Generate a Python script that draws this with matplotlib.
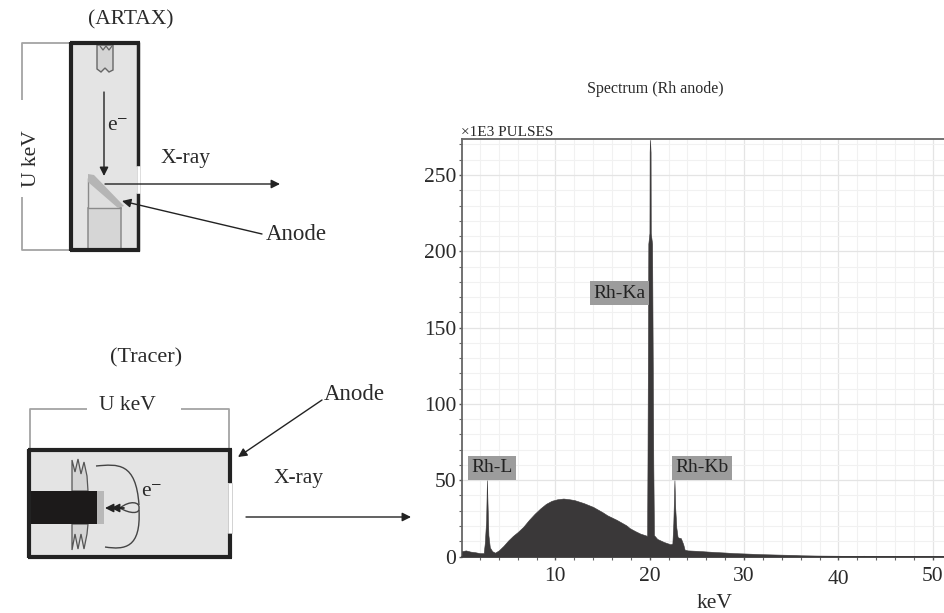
#!/usr/bin/env python3
"""X-ray tube sketches (ARTAX, Tracer) next to a Rh anode spectrum."""

import matplotlib
matplotlib.use('Agg')
import matplotlib.pyplot as plt
from matplotlib.patches import Polygon, Rectangle
from matplotlib.path import Path
from matplotlib.patches import PathPatch
from matplotlib.transforms import ScaledTranslation

plt.rcParams['font.family'] = ['Liberation Serif', 'DejaVu Serif']

# ── Spectrum data ─────────────────────────────────────────────────────────────
kev = [0.1, 0.5, 1.0, 1.5, 2.0, 2.4, 2.52, 2.66, 2.74, 2.8, 2.9, 3.05, 3.3, 3.6,
       4.0, 4.5, 5.0, 5.5, 6.0, 6.6, 7.2, 7.8, 8.4, 9.0, 9.6, 10.2, 10.85, 11.5,
       12.0, 13.0, 14.0, 15.0, 15.5, 16.5, 17.5, 17.9, 18.5, 19.0, 19.5, 19.72,
       19.76, 19.85, 19.97, 19.99, 20.03, 20.09, 20.11, 20.25, 20.38, 20.45, 20.8, 21.5,
       22.2, 22.4, 22.5, 22.62, 22.7, 22.82, 22.95, 23.0, 23.3, 23.55, 23.7, 24.0,
       25.0, 26.0, 27.0, 28.0, 29.0, 30.0, 32.0, 34.0, 35.5, 36.0, 38.0, 40.0, 41.0,
       42.0, 42.7, 43.0, 45.0, 48.0, 51.4]
counts = [3.5, 4.0, 3.2, 2.8, 2.2, 2.2, 9, 24, 50, 36, 14, 6, 3.5, 2.5,
          4, 7, 10.5, 13.5, 16, 19.5, 24, 28, 31.5, 34.5, 36.5, 37.5, 38, 37.5,
          37, 35, 32.5, 29, 27, 24, 20.5, 18.5, 16.5, 15, 14, 13.5,
          60, 205, 212, 265, 273, 265, 212, 205, 60, 14, 11.5, 9.5,
          8, 8.5, 22, 50, 32, 19, 13, 12.5, 12, 8, 4.5, 4,
          3.7, 3.3, 2.9, 2.6, 2.2, 2.0, 1.5, 1.2, 1.0, 0.8, 0.6, 0.5, 0.4,
          0.3, 0.5, 0.3, 0.3, 0.2, 0.2]

y_ticks = [0, 50, 100, 150, 200, 250]
x_ticks = [10, 20, 30, 40, 50]
x_minor = list(range(2, 52, 2))
y_minor = list(range(0, 280, 10))

peak_labels = ['Rh-L', 'Rh-Ka', 'Rh-Kb']
peak_x = [1.1, 14.0, 22.75]
peak_y = [58.0, 172.5, 58.0]

# ── Theme ─────────────────────────────────────────────────────────────────────
DARK = '#3a3839'
TEXT = '#2a2a2a'
WIRE = '#a4a4a4'
TUBE = '#e4e4e4'
LABEL_BG = '#9c9c9c'

W, H = 945, 613
fig = plt.figure(figsize=(W / 100, H / 100), dpi=100, facecolor='white')

# ── Spectrum panel ────────────────────────────────────────────────────────────
ax = fig.add_axes([462 / W, 1 - 556.5 / H, (W - 462) / W, (556.5 - 139) / H])
ax.set_xlim(0.1, 51.3)
ax.set_ylim(0, 273.6)

ax.set_xticks(x_ticks)
ax.set_xticks(x_minor, minor=True)
ax.set_yticks(y_ticks)
ax.set_yticks(y_minor, minor=True)
ax.grid(True, which='major', color='#e4e4e4', linewidth=0.9, zorder=0)
ax.grid(True, which='minor', color='#f1f1f1', linewidth=0.8, zorder=0)
ax.set_axisbelow(True)
ax.tick_params(which='major', length=2.5, width=1.0, color='#555555', labelsize=15.5,
               labelcolor=TEXT, pad=1.5)
ax.tick_params(which='minor', length=2, width=0.8, color='#666666')
ax.tick_params(axis='x', which='major', pad=5)

ax.spines['right'].set_visible(False)
for name in ('left', 'top'):
    ax.spines[name].set_color('#666666')
    ax.spines[name].set_linewidth(1.3)
ax.spines['bottom'].set_color('#444444')
ax.spines['bottom'].set_linewidth(1.3)

# the 40 label sits a little low in the original
for lab, val in zip(ax.get_xticklabels(), x_ticks):
    if val == 40:
        lab.set_transform(lab.get_transform() +
                          ScaledTranslation(0, -2 / 72, fig.dpi_scale_trans))

ax.fill_between(kev, 0, counts, color=DARK, linewidth=0.4, zorder=3)

for name, px, py in zip(peak_labels, peak_x, peak_y):
    ax.text(px, py, name, fontsize=14, color='#222222', va='center', ha='left', zorder=4,
            bbox=dict(facecolor=LABEL_BG, edgecolor='none', pad=2.5))

# ── Overlay in image pixels for the sketches and loose text ───────────────────
ov = fig.add_axes([0, 0, 1, 1], facecolor='none')
ov.set_xlim(0, W)
ov.set_ylim(H, 0)
ov.axis('off')


def label(x, y, s, size=15.5, **kw):
    ov.text(x, y, s, fontsize=size, color=TEXT, ha='center', va='center', **kw)


def line(xs, ys, color='#888888', lw=1.2):
    ov.plot(xs, ys, color=color, linewidth=lw, solid_capstyle='butt', zorder=3)


def arrow(x0, y0, x1, y1, lw=1.0):
    ov.annotate('', xy=(x1, y1), xytext=(x0, y0), zorder=5,
                arrowprops=dict(arrowstyle='-|>', color='#222222', lw=lw,
                                mutation_scale=13, shrinkA=0, shrinkB=0))


label(655, 89, 'Spectrum (Rh anode)', size=11.5)
ov.text(461, 133, '\u00d71E3 PULSES', fontsize=11, color=TEXT, ha='left', va='center')
label(715, 603, 'keV')

# ── ARTAX tube ────────────────────────────────────────────────────────────────
label(131, 20, '(ARTAX)')
line([71, 22, 22], [43, 43, 100], WIRE, 1.3)
line([22, 22, 71], [197, 250, 250], WIRE, 1.3)
label(32, 159, 'U keV', rotation=90)

ov.add_patch(Rectangle((71, 43), 67, 207, facecolor=TUBE, edgecolor='none', zorder=1))
line([71, 71], [42, 251], '#222222', 3)
line([69.5, 139.5], [43, 43], '#222222', 3)
line([69.5, 139.5], [250, 250], '#222222', 3)
line([138, 138], [42, 166], '#222222', 2.5)
line([138, 138], [193, 251], '#222222', 2.5)
ov.add_patch(Rectangle((137, 166), 3, 27, facecolor='white', edgecolor='#d0d0d0',
                       linewidth=0.5, zorder=3))

# filament
ov.add_patch(Polygon([(97, 45), (113, 45), (113, 70), (109, 72), (105, 68), (101, 72), (97, 69)],
                     facecolor='#d4d4d4', edgecolor='#666666', linewidth=1.0, zorder=2))
line([100, 103, 106, 109, 112], [46, 50, 46, 50, 46], '#666666', 0.9)
arrow(104, 92, 104, 176)
label(118, 126, 'e\u207b')

# anode block
ov.add_patch(Rectangle((88, 208), 33, 42, facecolor='#d6d6d6', edgecolor='#8a8a8a',
                       linewidth=1.1, zorder=2))
ov.add_patch(Polygon([(88, 178), (88, 208), (121, 208)], facecolor='#dedede',
                     edgecolor='#8a8a8a', linewidth=1.0, zorder=2))
ov.add_patch(Polygon([(88, 174), (94, 175), (124, 206), (118, 208), (88, 182)],
                     facecolor='#b5b5b5', edgecolor='none', zorder=3))

arrow(105, 184, 280, 184)
label(186, 159, 'X-ray')
arrow(262, 234, 122, 201)
label(296, 235, 'Anode', size=16.5)

# ── Tracer tube ───────────────────────────────────────────────────────────────
label(146, 358, '(Tracer)', size=16)
line([30, 30, 87], [450, 409, 409], WIRE, 1.3)
line([181, 229, 229], [409, 409, 450], WIRE, 1.3)
label(127, 405, 'U keV')

ov.add_patch(Rectangle((29, 450), 201, 107, facecolor=TUBE, edgecolor='none', zorder=1))
line([27.5, 231.5], [450, 450], '#222222', 3)
line([27.5, 231.5], [557, 557], '#222222', 3)
line([29, 29], [449, 558], '#222222', 3)
line([230, 230], [449, 483], '#222222', 3)
line([230, 230], [533, 558], '#222222', 3)
ov.add_patch(Rectangle((228, 483), 4, 50, facecolor='white', edgecolor='#c0c0c0',
                       linewidth=0.5, zorder=3))

# filaments either side of the cathode
ov.add_patch(Polygon([(72, 491), (72, 460), (75, 472), (78, 459), (81, 474), (84, 462), (87, 476),
                      (88, 491)], facecolor='#d4d4d4', edgecolor='#555555',
                     linewidth=0.9, zorder=2))
ov.add_patch(Polygon([(72, 524), (72, 550), (75, 534), (78, 549), (81, 534), (84, 549), (87, 534),
                      (88, 524)], facecolor='#d4d4d4', edgecolor='#555555',
                     linewidth=0.9, zorder=2))
ov.add_patch(Rectangle((31, 491), 66, 33, facecolor='#1c1a1a', edgecolor='none', zorder=3))
ov.add_patch(Rectangle((97, 491), 7, 33, facecolor='#b8b8b8', edgecolor='none', zorder=3))

# focusing cup
cup_top = Path([(96, 466), (118, 464), (136, 462), (139, 505)],
               [Path.MOVETO, Path.CURVE4, Path.CURVE4, Path.CURVE4])
cup_bot = Path([(105, 547), (125, 550), (141, 548), (139, 510)],
               [Path.MOVETO, Path.CURVE4, Path.CURVE4, Path.CURVE4])
lens = Path([(120, 508), (130, 500), (140, 502), (139, 508), (140, 514), (130, 514), (120, 508)],
            [Path.MOVETO, Path.CURVE4, Path.CURVE4, Path.CURVE4,
             Path.CURVE4, Path.CURVE4, Path.CURVE4])
for p in (cup_top, cup_bot, lens):
    ov.add_patch(PathPatch(p, facecolor='none', edgecolor='#444444', linewidth=1.0, zorder=4))
arrow(124, 508, 105, 508)
arrow(124, 508, 111, 508)
label(152, 491, 'e\u207b')

label(354, 395, 'Anode', size=16.5)
arrow(322, 400, 238, 457)
label(299, 479, 'X-ray')
arrow(246, 517, 411, 517)

fig.savefig('out.png', dpi=100, facecolor='white')
